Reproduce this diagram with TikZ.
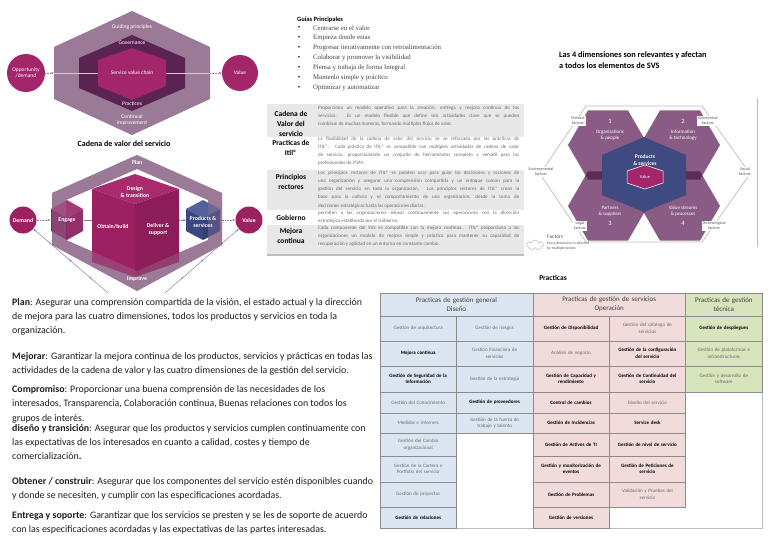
\documentclass[tikz,border=0pt]{standalone}
\usepackage{fontspec}
\setmainfont{Carlito}
\newfontfamily\guiafont{Liberation Serif}
\usetikzlibrary{arrows.meta,decorations.markings,shapes.symbols}

\definecolor{svsmauve}{HTML}{9B7A98}
\definecolor{svsdark}{HTML}{5B2352}
\definecolor{svspink}{HTML}{A3266B}
\definecolor{svsline}{HTML}{D9CAD6}
\definecolor{cubetop}{HTML}{A92B6D}
\definecolor{cubeleft}{HTML}{9C2162}
\definecolor{cuberight}{HTML}{8C1D58}
\definecolor{engtop}{HTML}{A23C78}
\definecolor{engleft}{HTML}{85285F}
\definecolor{engright}{HTML}{93306B}
\definecolor{prodtop}{HTML}{55619C}
\definecolor{prodleft}{HTML}{3B4680}
\definecolor{prodright}{HTML}{34407A}
\definecolor{dimmauve}{HTML}{8A5C85}
\definecolor{dimdark}{HTML}{5A2D55}
\definecolor{dimblue}{HTML}{3E4A80}
\definecolor{rowgrey}{HTML}{E8E8E8}
\definecolor{rowline}{HTML}{BDBDBD}
\definecolor{diseno}{HTML}{DCE6F2}
\definecolor{operacion}{HTML}{F2DCDB}
\definecolor{tecnica}{HTML}{D8E4BC}
\definecolor{cellline}{HTML}{8C8C8C}
\definecolor{celltext}{HTML}{6A6A6A}
\definecolor{headtext}{HTML}{404040}
\definecolor{bodytext}{HTML}{1E1E1E}
\definecolor{factortext}{HTML}{555555}

% justified line of the ITIL table
\newcommand{\jl}[1]{\makebox[201pt][s]{#1}}
% flat hexagon of the four dimensions
\newcommand{\dimhex}[2]{({#1+40},{#2}) -- ({#1+20},{#2-34.6}) -- ({#1-20},{#2-34.6}) -- ({#1-40},{#2}) -- ({#1-20},{#2+34.6}) -- ({#1+20},{#2+34.6}) -- cycle}

\tikzset{
  svstext/.style={text=white, align=center, font=\fontsize{5.5}{6}\selectfont},
  cubetext/.style={text=white, align=center, font=\fontsize{5.8}{7}\selectfont\bfseries},
  dimtext/.style={text=white, align=center, font=\fontsize{5}{6}\selectfont},
  factor/.style={fill=white, inner sep=1pt, text=factortext, align=center, font=\fontsize{4.2}{5}\selectfont},
  svscircle/.style={circle, fill=svspink, svstext},
  svsarrow/.style={densely dotted, draw=svsmauve, line width=0.6pt, -{Stealth[length=3pt]}},
  vcarrow/.style={densely dotted, draw=svsmauve, line width=0.6pt, -{Stealth[length=3pt]}},
  fbline/.style={draw=svsmauve, line width=0.5pt, -{Stealth[length=3pt]},
    postaction={decorate},
    decoration={markings, mark=between positions 0.25 and 0.8 step 0.27 with {\arrow{Stealth[length=2.5pt]}}}},
  para/.style={anchor=north west, align=left, text=bodytext, font=\fontsize{9.9}{14.3}\selectfont},
  rowlabel/.style={align=center, font=\fontsize{7.5}{10}\selectfont\bfseries},
  rowtext/.style={anchor=north west, align=left, text=celltext, font=\fontsize{5}{8.1}\selectfont},
  pcell/.style={draw=cellline, line width=0.5pt, minimum width=76.4pt, text width=72pt,
    align=center, text=celltext, font=\fontsize{5}{6.5}\selectfont},
  pbold/.style={pcell, text=black, font=\fontsize{5}{6.5}\selectfont\bfseries},
  phead/.style={draw=cellline, line width=0.5pt, minimum width=152.8pt, text width=148pt,
    minimum height=23pt, align=center, text=headtext, font=\fontsize{7}{9}\selectfont}
}

\begin{document}
\begin{tikzpicture}[x=1pt, y=-1pt, every node/.style={inner sep=0pt}]
  \useasboundingbox (0,0) rectangle (768,543);
  \fill[white] (0,0) rectangle (768,543);

  % sistema de valor del servicio
  \fill[svsmauve] (132,11) -- (210,47) -- (210,99) -- (132,135) -- (54,99) -- (54,47) -- cycle;
  \fill[svsdark] (132,35) -- (185,58) -- (185,88) -- (132,111) -- (79,88) -- (79,58) -- cycle;
  \coordinate (svsin) at (54,73);
  \coordinate (svsout) at (210,73);
  \draw[svsline, line width=0.6pt] (svsin) -- (svsout);
  \fill[svspink] (132,48) -- (166,60) -- (166,86) -- (132,100) -- (98,86) -- (98,60) -- cycle;
  \node[svstext] (guiding) at (132,27) {Guiding principles};
  \node[svstext] (governance) at (132,43) {Governance};
  \node[svstext] (chain) at (132,73) {Service value chain};
  \node[svstext] (practices) at (132,104) {Practices};
  \node[svstext] (continual) at (132,120) {Continual\\improvement};
  \node[svscircle, minimum size=38pt] (opportunity) at (26,73) {Opportunity\\/demand};
  \node[svscircle, minimum size=36pt] (value) at (240,73) {Value};
  \draw[svsarrow] (opportunity) -- (svsin);
  \draw[svsarrow] (svsout) -- (value);

  \node[font=\fontsize{8}{9}\selectfont\bfseries] (cadena) at (124,144) {Cadena de valor del servicio};

  % cadena de valor
  \fill[svsmauve, even odd rule]
    (137,155) -- (222,193) -- (222,245) -- (137,291) -- (52,245) -- (52,193) -- cycle
    (137,169) -- (208,200) -- (208,240) -- (137,271) -- (66,240) -- (66,200) -- cycle;
  \node[circle, fill=cubeleft, minimum size=27pt] (demand) at (23,220) {};
  \node[circle, fill=cubeleft, minimum size=27pt] (valueout) at (249,220) {};
  \coordinate (fbl) at (108,293);
  \coordinate (fbr) at (165,293);
  \draw[fbline] (fbl) -- (demand);
  \draw[fbline] (fbr) -- (valueout);
  \fill[cubetop] (135,174) -- (179,189) -- (135,204) -- (92,189) -- cycle;
  \fill[cubeleft] (92,189) -- (135,204) -- (135,277) -- (92,262) -- cycle;
  \fill[cuberight] (135,204) -- (179,189) -- (179,262) -- (135,277) -- cycle;
  \fill[engtop] (67,200) -- (83,209) -- (67,218) -- (51,209) -- cycle;
  \fill[engleft] (51,209) -- (67,218) -- (67,240) -- (51,231) -- cycle;
  \fill[engright] (67,218) -- (83,209) -- (83,231) -- (67,240) -- cycle;
  \fill[prodtop] (203,200) -- (220,209) -- (203,218) -- (186,209) -- cycle;
  \fill[prodleft] (186,209) -- (203,218) -- (203,240) -- (186,231) -- cycle;
  \fill[prodright] (203,218) -- (220,209) -- (220,231) -- (203,240) -- cycle;
  \fill[svsmauve, fill opacity=0.35, even odd rule]
    (137,155) -- (222,193) -- (222,245) -- (137,291) -- (52,245) -- (52,193) -- cycle
    (137,169) -- (208,200) -- (208,240) -- (137,271) -- (66,240) -- (66,200) -- cycle;
  \node[cubetext] at (demand) {Demand};
  \node[cubetext] at (valueout) {Value};
  \node[cubetext] (plan) at (137,162) {Plan};
  \node[cubetext] (improve) at (137,279) {Improve};
  \node[cubetext] (design) at (135,192) {Design\\\& transition};
  \node[cubetext] (obtain) at (113,227) {Obtain/build};
  \node[cubetext] (deliver) at (158,229) {Deliver \&\\support};
  \node[cubetext, minimum width=33pt, minimum height=40pt] (engage) at (67,220) {Engage};
  \node[cubetext, minimum width=34pt, minimum height=40pt] (products) at (203,222) {Products \&\\services};
  \coordinate (cubein) at (92,220);
  \coordinate (cubeout) at (179,220);
  \draw[vcarrow] (demand) -- (engage);
  \draw[svsmauve, line width=0.6pt] (engage) -- (cubein);
  \draw[vcarrow] (cubeout) -- (products.west |- cubeout);
  \draw[vcarrow] (products.east |- cubeout) -- (valueout);

  % guias principales
  \node[anchor=west, font=\fontsize{6.5}{8}\selectfont\bfseries] (guias) at (297,20) {Guías Principales};
  \foreach \guia [count=\i] in {Centrarse en el valor, Empieza donde estas,
      Progresar iterativamente con retroalimentación, Colaborar y promover la visibilidad,
      Piensa y trabaja de forma Integral, Mantenlo simple y práctico, Optimizar y automatizar}
  {
    \node[font=\guiafont\fontsize{6.8}{8}\selectfont] (bullet\i) at (299,{28+10*(\i-1)}) {\textbullet};
    \node[anchor=west, text=headtext, font=\guiafont\fontsize{6.8}{8}\selectfont] (guia\i) at (313,{28+10*(\i-1)}) {\guia};
  }

  % tabla de elementos del SVS
  \fill[rowgrey] (267,104) rectangle (524,137);
  \fill[rowgrey] (267,170) rectangle (524,210);
  \fill[rowgrey] (267,225) rectangle (524,254);
  \fill[rowline] (267,254) rectangle (524,256);
  \node[rowlabel] (lcadena) at (291,124) {Cadena de\\Valor del\\servicio};
  \node[rowlabel] (lpracticas) at (291,148) {Practicas de\\Itil®};
  \node[rowlabel] (lprincipios) at (291,182) {Principios\\rectores};
  \node[rowlabel] (lgobierno) at (291,218) {Gobierno};
  \node[rowlabel] (lmejora) at (291,235.5) {Mejora\\continua};
  \node[rowtext] (tcadena) at (318,106) {%
    \jl{Proporciona un modelo operativo para la creación, entrega y mejora continua de los}\\
    \jl{servicios. Es un modelo flexible que define seis actividades clave que se pueden}\\
    combinar de muchas maneras, formando múltiples flujos de valor.};
  \node[rowtext] (tpracticas) at (318,137) {%
    \jl{La flexibilidad de la cadena de valor del servicio se ve reforzada por las prácticas de}\\
    \jl{ITIL®. Cada práctica de ITIL® es compatible con múltiples actividades de cadena de valor}\\
    \jl{de servicio, proporcionando un conjunto de herramientas completo y versátil para los}\\
    profesionales de ITSM.};
  \node[rowtext] (tprincipios) at (318,171) {%
    \jl{Los principios rectores de ITIL® se pueden usar para guiar las decisiones y acciones de}\\
    \jl{una organización y asegurar una comprensión compartida y un enfoque común para la}\\
    \jl{gestión del servicio en toda la organización. Los principios rectores de ITIL® crean la}\\
    \jl{base para la cultura y el comportamiento de una organización, desde la toma de}\\
    decisiones estratégicas hasta las operaciones diarias.};
  \node[rowtext] (tgobierno) at (318,211) {%
    \jl{permiten a las organizaciones alinear continuamente sus operaciones con la dirección}\\
    estratégica establecida por el Gobierno.};
  \node[rowtext] (tmejora) at (318,226) {%
    \jl{Cada componente del SVS es compatible con la mejora continua. ITIL® proporciona a las}\\
    \jl{organizaciones un modelo de mejora simple y práctico para mantener su capacidad de}\\
    recuperación y agilidad en un entorno en constante cambio.};

  % cuatro dimensiones
  \node[anchor=north west, align=left, font=\fontsize{8.3}{11.5}\selectfont\bfseries] (dimtitle) at (559,51)
    {Las 4 dimensiones son relevantes y afectan\\a todos los elementos de SVS};
  \draw[rowline, line width=0.7pt] (757,98) -- (757,247);
  \draw[rowline, line width=0.7pt] (540,174) -- (586,106) -- (702,106) -- (750,174) -- (702,242) -- (586,242) -- cycle;
  \fill[dimmauve] \dimhex{608}{145};
  \fill[dimmauve] \dimhex{680}{145};
  \fill[dimmauve] \dimhex{608}{206};
  \fill[dimmauve] \dimhex{680}{206};
  \begin{scope}
    \clip \dimhex{608}{145};
    \fill[dimdark] \dimhex{680}{145};
    \fill[dimdark] \dimhex{608}{206};
  \end{scope}
  \begin{scope}
    \clip \dimhex{680}{206};
    \fill[dimdark] \dimhex{680}{145};
    \fill[dimdark] \dimhex{608}{206};
  \end{scope}
  \fill[dimblue] (644,137) -- (686,155) -- (686,195) -- (644,212) -- (602,195) -- (602,155) -- cycle;
  \filldraw[fill=svspink, draw=white, line width=0.5pt] (645,165) -- (663,171) -- (663,183) -- (645,189) -- (627,183) -- (627,171) -- cycle;
  \node[dimtext, font=\fontsize{6.5}{7}\selectfont] (num1) at (610,121) {1};
  \node[dimtext] (people) at (610,135) {Organizations\\\& people};
  \node[dimtext, font=\fontsize{6.5}{7}\selectfont] (num2) at (683,121) {2};
  \node[dimtext] (information) at (683,135) {Information\\\& technology};
  \node[dimtext, font=\fontsize{5.5}{6.5}\selectfont\bfseries] (prodserv) at (645,160) {Products\\\& services};
  \node[dimtext, font=\fontsize{4.5}{5}\selectfont] (dimvalue) at (645,177) {Value};
  \node[dimtext] (partners) at (610,211) {Partners\\\& suppliers};
  \node[dimtext, font=\fontsize{6.5}{7}\selectfont] (num3) at (610,223) {3};
  \node[dimtext] (streams) at (683,211) {Value streams\\\& processes};
  \node[dimtext, font=\fontsize{6.5}{7}\selectfont] (num4) at (683,223) {4};
  \node[factor] (political) at (578,121) {Political\\factors};
  \node[factor] (economical) at (708,121) {Economical\\factors};
  \node[factor] (environmental) at (541,172) {Environmental\\factors};
  \node[factor] (social) at (745,172) {Social\\factors};
  \node[factor] (legal) at (580,226) {Legal\\factors};
  \node[factor] (technological) at (714,226) {Technological\\factors};
  \begin{scope}
    \clip (520,230) rectangle (640,251);
    \node[cloud, cloud puffs=7, draw=rowline, line width=0.5pt, minimum width=17pt, minimum height=10pt] (cloud) at (535,245) {};
    \node[anchor=north west, align=left, text=factortext, font=\fontsize{5.5}{6}\selectfont] (factors) at (547,235) {Factors};
    \node[anchor=north west, align=left, text=factortext, font=\fontsize{3.8}{4.8}\selectfont] (affected) at (547,241.5) {Every dimension is affected\\by multiple factors};
  \end{scope}

  % actividades de la cadena de valor
  \node[para] (pplan) at (12,298) {\textbf{Plan}: Asegurar una comprensión compartida de la visión, el estado actual y la dirección\\
    de mejora para las cuatro dimensiones, todos los productos y servicios en toda la\\
    organización.};
  \node[para] (pmejorar) at (12,352) {\textbf{Mejorar}: Garantizar la mejora continua de los productos, servicios y prácticas en todas las\\
    actividades de la cadena de valor y las cuatro dimensiones de la gestión del servicio.};
  \node[para] (pcompromiso) at (12,385.5) {\textbf{Compromiso}: Proporcionar una buena comprensión de las necesidades de los\\
    interesados, Transparencia, Colaboración continua, Buenas relaciones con todos los\\
    grupos de interés.};
  \node[para] (pdiseno) at (12,424) {\textbf{diseño y transición}: Asegurar que los productos y servicios cumplen continuamente con\\
    las expectativas de los interesados en cuanto a calidad, costes y tiempo de\\
    comercialización\textbf{.}};
  \node[para] (pobtener) at (12,477.5) {\textbf{Obtener / construir}: Asegurar que los componentes del servicio estén disponibles cuando\\
    y donde se necesiten, y cumplir con las especificaciones acordadas.};
  \node[para] (pentrega) at (12,511.5) {\textbf{Entrega y soporte}: Garantizar que los servicios se presten y se les de soporte de acuerdo\\
    con las especificaciones acordadas y las expectativas de las partes interesadas.};

  % practicas
  \node[font=\fontsize{7.5}{9}\selectfont\bfseries] (practicas) at (553,278) {Practicas};
  \draw[rowline, line width=0.6pt] (380,293) rectangle (762,528);
  \node[phead, fill=diseno] (hdiseno) at (456.4,304.5) {Practicas de gestión general\\Diseño};
  \node[phead, fill=operacion] (hoperacion) at (609.2,304.5) {Practicas de gestión de servicios\\Operación};
  \node[phead, fill=tecnica, minimum width=76.4pt, text width=72pt] (htecnica) at (723.8,304.5) {Practicas de gestión\\técnica};

  \node[pcell, fill=diseno, minimum height=25pt] (arquitectura) at (418.2,328.5) {Gestión de arquitectura};
  \node[pcell, fill=diseno, minimum height=25pt] (riesgos) at (494.6,328.5) {Gestión de riesgos};
  \node[pbold, fill=operacion, minimum height=25pt] (disponibilidad) at (571,328.5) {Gestión de Disponibilidad};
  \node[pcell, fill=operacion, minimum height=25pt] (catalogo) at (647.4,328.5) {Gestión del catalogo de\\servicios};
  \node[pbold, fill=tecnica, minimum height=25pt] (despliegues) at (723.8,328.5) {Gestión de despliegues};

  \node[pbold, fill=diseno, minimum height=25pt] (mejora) at (418.2,353.5) {Mejora continua};
  \node[pcell, fill=diseno, minimum height=25pt] (financiera) at (494.6,353.5) {Gestión Financiera de\\servicios};
  \node[pcell, fill=operacion, minimum height=25pt] (negocio) at (571,353.5) {Análisis de negocio};
  \node[pbold, fill=operacion, minimum height=25pt] (configuracion) at (647.4,353.5) {Gestión de la configuración\\del servicio};
  \node[pcell, fill=tecnica, minimum height=25pt] (plataformas) at (723.8,353.5) {Gestión de plataformas e\\infraestructuras};

  \node[pbold, fill=diseno, minimum height=26pt] (seguridad) at (418.2,379) {Gestión de Seguridad de la\\Información};
  \node[pcell, fill=diseno, minimum height=26pt] (estrategia) at (494.6,379) {Gestión de la estrategia};
  \node[pbold, fill=operacion, minimum height=26pt] (capacidad) at (571,379) {Gestión de Capacidad y\\rendimiento};
  \node[pbold, fill=operacion, minimum height=26pt] (continuidad) at (647.4,379) {Gestión de Continuidad del\\servicio};
  \node[pcell, fill=tecnica, minimum height=26pt] (software) at (723.8,379) {Gestión y desarrollo de\\software};

  \node[pcell, fill=diseno, minimum height=21pt] (conocimiento) at (418.2,402.5) {Gestión del Conocimiento};
  \node[pbold, fill=diseno, minimum height=21pt] (proveedores) at (494.6,402.5) {Gestión de proveedores};
  \node[pbold, fill=operacion, minimum height=21pt] (cambios) at (571,402.5) {Control de cambios};
  \node[pcell, fill=operacion, minimum height=21pt] (disenoserv) at (647.4,402.5) {Diseño del servicio};

  \node[pcell, fill=diseno, minimum height=20pt] (medidas) at (418.2,423) {Medidas e informes};
  \node[pcell, fill=diseno, minimum height=20pt] (talento) at (494.6,423) {Gestión de la fuerza de\\trabajo y talento};
  \node[pbold, fill=operacion, minimum height=20pt] (incidencias) at (571,423) {Gestión de Incidencias};
  \node[pbold, fill=operacion, minimum height=20pt] (servicedesk) at (647.4,423) {Service desk};

  \node[pcell, fill=diseno, minimum height=23pt] (cambioorg) at (418.2,444.5) {Gestión del Cambio\\organizacional};
  \node[pbold, fill=operacion, minimum height=23pt] (activos) at (571,444.5) {Gestión de Activos de TI};
  \node[pbold, fill=operacion, minimum height=23pt] (nivel) at (647.4,444.5) {Gestión de nivel de servicio};

  \node[pcell, fill=diseno, minimum height=26pt] (cartera) at (418.2,469) {Gestión de la Cartera o\\Portfolio del servicio};
  \node[pbold, fill=operacion, minimum height=26pt] (eventos) at (571,469) {Gestión y monitorización de\\eventos};
  \node[pbold, fill=operacion, minimum height=26pt] (peticiones) at (647.4,469) {Gestión de Peticiones de\\servicio};

  \node[pcell, fill=diseno, minimum height=25pt] (proyectos) at (418.2,494.5) {Gestión de proyectos};
  \node[pbold, fill=operacion, minimum height=25pt] (problemas) at (571,494.5) {Gestión de Problemas};
  \node[pcell, fill=operacion, minimum height=25pt] (validacion) at (647.4,494.5) {Validación y Pruebas del\\servicio};

  \node[pbold, fill=diseno, minimum height=21pt] (relaciones) at (418.2,517.5) {Gestión de relaciones};
  \node[pbold, fill=operacion, minimum height=21pt] (versiones) at (571,517.5) {Gestión de versiones};
\end{tikzpicture}
\end{document}
